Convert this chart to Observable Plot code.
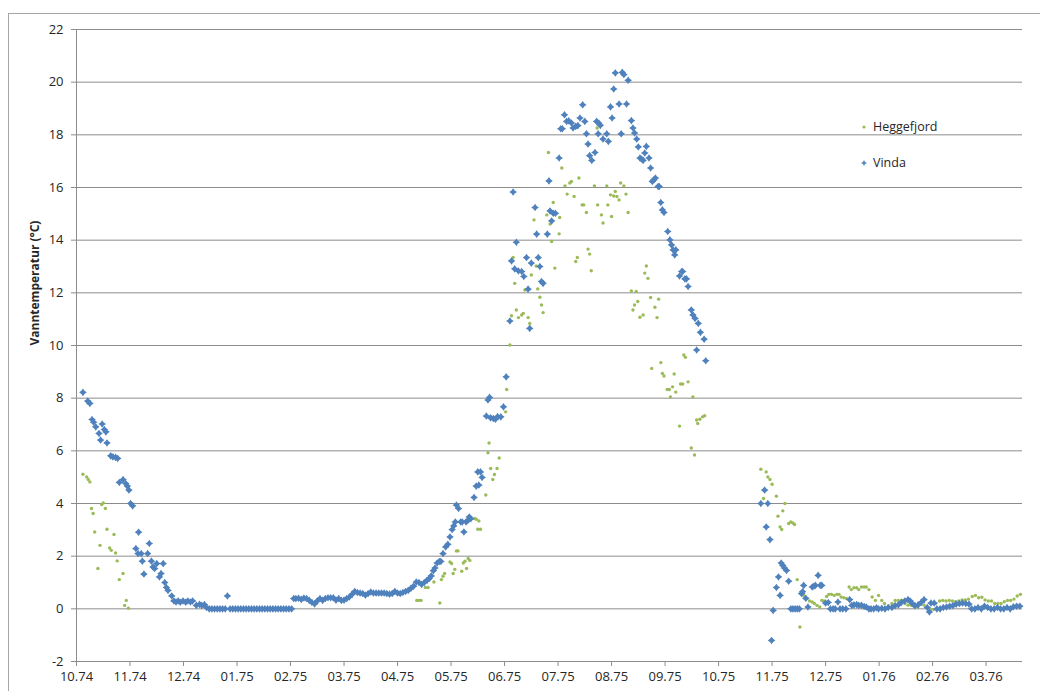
<!DOCTYPE html>
<html><head><meta charset="utf-8">
<script src="https://cdn.jsdelivr.net/npm/d3@7"></script>
<script src="https://cdn.jsdelivr.net/npm/@observablehq/plot@0.6"></script>
<style>
body{margin:0;background:#fff;}
#wrap{position:relative;width:1040px;height:691px;overflow:hidden;background:#fff;}
#frame{position:absolute;left:8px;top:13px;width:1100px;height:800px;border-left:1px solid #a6a6a6;border-top:1px solid #a6a6a6;}
#chart{position:absolute;left:0;top:0;}
#legend{position:absolute;left:860px;top:117px;font-family:"Open Sans",sans-serif;font-size:12.5px;color:#262626;}
#legend div{height:20px;line-height:20px;margin-bottom:16px;display:flex;align-items:center;}
#legend svg{margin-right:5px;}
</style></head>
<body>
<div id="wrap"><div id="frame"></div><div id="chart"></div>
<div id="legend"></div></div>
<script>
// x = months after start of October 1974 (0 = 10.74)
const xLabels = ["10.74","11.74","12.74","01.75","02.75","03.75","04.75","05.75","06.75","07.75","08.75","09.75","10.75","11.75","12.75","01.76","02.76","03.76"];
const yTicks = [-2,0,2,4,6,8,10,12,14,16,18,20,22];
const seriesNames = ["Heggefjord","Vinda"];

const heggefjordAutumn74 = [[0.12,5.11],[0.19,5.01],[0.22,4.91],[0.25,4.82],[0.28,3.81],[0.31,3.62],[0.34,2.92],[0.40,1.53],[0.44,2.41],[0.47,3.96],[0.50,4.02],[0.54,3.81],[0.57,3.02],[0.62,2.31],[0.65,2.22],[0.70,2.82],[0.73,2.12],[0.76,1.82],[0.80,1.11],[0.87,1.34],[0.90,0.13],[0.93,0.32],[0.97,0.02]];
const heggefjordSpring75 = [[6.36,0.32],[6.40,0.32],[6.44,0.32],[6.52,0.81],[6.57,0.81],[6.68,1.02],[6.79,0.22],[6.82,1.11],[6.85,1.24],[6.88,1.34],[6.98,1.78],[7.01,1.72],[7.04,1.34],[7.07,1.50],[7.10,2.2],[7.13,2.2],[7.20,1.43],[7.23,1.74],[7.26,1.81],[7.29,1.53],[7.32,1.91],[7.35,1.84],[7.44,3.43],[7.47,3.4],[7.50,3.02],[7.52,3.34],[7.55,3.02],[7.65,4.32],[7.69,5.93],[7.71,6.30],[7.74,5.33],[7.78,4.91],[7.81,5.10],[7.86,5.33],[7.90,5.73],[8.02,7.48],[8.04,8.33]];
const heggefjordSummer75 = [[8.10,10.02],[8.13,11.13],[8.16,13.34],[8.19,12.36],[8.22,11.35],[8.26,11.06],[8.32,11.16],[8.35,11.22],[8.38,12.11],[8.44,11.06],[8.47,10.84],[8.50,12.68],[8.55,14.77],[8.59,13.02],[8.62,12.15],[8.66,11.83],[8.69,11.54],[8.72,11.25],[8.79,14.96],[8.82,17.33],[8.85,14.61],[8.88,13.95],[8.91,15.43],[8.94,12.94],[9.02,14.24],[9.03,14.86],[9.07,16.74],[9.13,16.06],[9.17,15.75],[9.22,16.17],[9.25,16.23],[9.30,15.66],[9.33,13.19],[9.36,13.34],[9.39,16.36],[9.45,15.34],[9.48,15.34],[9.53,15.05],[9.56,13.66],[9.59,13.47],[9.62,12.84],[9.68,16.06],[9.73,18.26],[9.74,15.34],[9.81,14.96],[9.84,14.65],[9.91,16.06],[9.93,15.34],[9.98,15.72],[10.00,14.9],[10.04,15.68],[10.07,15.85],[10.10,15.66],[10.14,15.53],[10.17,16.17],[10.23,16.06],[10.27,15.75],[10.31,15.05],[10.37,12.07],[10.40,11.35],[10.43,11.54],[10.46,12.05],[10.49,11.67],[10.53,11.07],[10.59,11.16],[10.62,12.75],[10.65,13.02],[10.68,12.55],[10.73,11.82],[10.75,9.13],[10.81,11.45],[10.85,11.06],[10.88,11.76],[10.92,9.35],[10.95,8.94],[10.98,8.84],[11.04,8.33],[11.08,8.33],[11.10,8.05],[11.14,8.43],[11.17,8.92],[11.20,8.23],[11.27,6.94],[11.29,8.54],[11.33,8.54],[11.35,9.64],[11.38,9.55],[11.43,8.62],[11.49,6.11],[11.52,8.05],[11.55,5.84],[11.59,7.17],[11.61,7.04],[11.65,7.2],[11.70,7.29],[11.74,7.33]];
const heggefjordWinter75 = [[12.79,5.3],[12.84,4.19],[12.89,5.2],[12.92,5.01],[12.96,4.91],[13.0,4.73],[13.08,4.28],[13.11,3.52],[13.15,3.11],[13.18,3.01],[13.20,3.72],[13.24,4.0],[13.31,3.24],[13.35,3.30],[13.39,3.26],[13.42,3.20],[13.47,1.11],[13.52,-0.69],[13.56,0.6],[13.59,0.51],[13.62,0.45],[13.65,0.39],[13.70,0.3],[13.75,0.26],[13.79,0.2],[13.84,0.13],[13.89,0.07],[13.93,0.32],[13.97,0.3],[14.02,0.47],[14.06,0.55],[14.11,0.55],[14.16,0.51],[14.21,0.55],[14.25,0.55],[14.29,0.45],[14.34,0.42],[14.39,0.39],[14.44,0.83],[14.48,0.73],[14.53,0.8],[14.58,0.8],[14.62,0.73],[14.67,0.83],[14.72,0.83],[14.76,0.83],[14.81,0.73],[14.87,0.45],[14.93,0.32],[14.99,0.51],[15.05,0.32],[15.10,0.2],[15.18,0.11],[15.24,0.2],[15.30,0.32],[15.36,0.32],[15.42,0.32],[15.48,0.2],[15.54,0.14],[15.60,0.14],[15.66,0.07],[15.72,0.07],[15.78,0.2],[15.84,0.14],[15.90,0.07],[15.96,-0.03],[16.02,-0.03],[16.05,0.2],[16.13,0.3],[16.19,0.32],[16.25,0.3],[16.31,0.32],[16.37,0.3],[16.43,0.27],[16.49,0.3],[16.55,0.34],[16.61,0.34],[16.67,0.37],[16.74,0.47],[16.80,0.51],[16.86,0.42],[16.92,0.44],[16.98,0.34],[17.04,0.3],[17.10,0.3],[17.16,0.2],[17.22,0.2],[17.28,0.2],[17.34,0.27],[17.40,0.32],[17.46,0.32],[17.52,0.37],[17.58,0.49],[17.64,0.55]];

const vindaAutumn74 = [[0.12,8.22],[0.21,7.89],[0.25,7.8],[0.29,7.19],[0.32,7.09],[0.36,6.91],[0.42,6.66],[0.45,6.41],[0.48,7.02],[0.52,6.81],[0.55,6.72],[0.57,6.3],[0.64,5.81],[0.68,5.77],[0.73,5.75],[0.77,5.71],[0.80,4.8],[0.87,4.91],[0.92,4.76],[0.95,4.66],[0.98,4.51],[1.01,4.0],[1.05,3.91],[1.11,2.29],[1.15,2.1],[1.16,2.91],[1.21,2.1],[1.23,1.81],[1.26,1.32],[1.33,2.1],[1.36,2.48],[1.40,1.81],[1.43,1.59],[1.46,1.53],[1.50,1.72],[1.55,1.21],[1.58,1.34],[1.62,1.72],[1.65,1.0],[1.68,0.81],[1.71,0.7],[1.78,0.49],[1.82,0.3],[1.86,0.26],[1.90,0.3],[1.94,0.25],[1.99,0.3],[2.04,0.25],[2.08,0.3],[2.13,0.26],[2.17,0.3],[2.24,0.13],[2.30,0.17],[2.34,0.13],[2.39,0.16],[2.43,0.05]];
const vindaWinter75 = [[2.48,0],[2.53,0],[2.58,0],[2.63,0],[2.68,0],[2.73,0],[2.78,0],[2.82,0.49],[2.87,0],[2.92,0],[2.97,0],[3.02,0],[3.07,0],[3.12,0],[3.17,0],[3.22,0],[3.27,0],[3.32,0],[3.37,0],[3.42,0],[3.47,0],[3.52,0],[3.57,0],[3.62,0],[3.67,0],[3.72,0],[3.77,0],[3.82,0],[3.87,0],[3.92,0],[3.97,0],[4.02,0]];
const vindaSpring75 = [[4.06,0.39],[4.10,0.39],[4.15,0.40],[4.20,0.36],[4.25,0.41],[4.30,0.39],[4.35,0.32],[4.40,0.24],[4.45,0.19],[4.50,0.30],[4.55,0.39],[4.60,0.32],[4.65,0.39],[4.70,0.42],[4.75,0.42],[4.80,0.42],[4.85,0.33],[4.90,0.39],[4.95,0.32],[5.00,0.33],[5.05,0.39],[5.10,0.45],[5.15,0.55],[5.20,0.66],[5.25,0.62],[5.30,0.60],[5.35,0.58],[5.40,0.52],[5.45,0.58],[5.50,0.64],[5.55,0.60],[5.60,0.60],[5.65,0.60],[5.70,0.60],[5.75,0.60],[5.80,0.58],[5.85,0.56],[5.90,0.58],[5.95,0.66],[6.00,0.60],[6.05,0.58],[6.10,0.62],[6.15,0.66],[6.20,0.70],[6.25,0.78],[6.30,0.86],[6.35,1.02],[6.40,1.0],[6.45,0.93],[6.50,1.0],[6.55,1.08],[6.59,1.15],[6.63,1.25],[6.67,1.45],[6.70,1.55],[6.74,1.74],[6.78,1.8],[6.81,1.8],[6.85,2.1],[6.90,2.35],[6.94,2.45],[6.98,2.73],[7.02,3.01],[7.05,3.15],[7.08,3.3],[7.10,3.94],[7.14,3.81],[7.18,3.30],[7.21,3.30],[7.24,2.92],[7.28,3.30],[7.31,3.35],[7.34,3.49],[7.37,3.42],[7.43,4.23],[7.47,4.66],[7.50,5.2],[7.52,4.7],[7.55,5.2],[7.58,4.99],[7.66,7.32],[7.69,7.93],[7.72,8.03],[7.74,7.25],[7.79,7.23],[7.83,7.2],[7.87,7.3],[7.93,7.29],[7.98,7.67],[8.03,8.81]];
const vindaSummer75 = [[8.10,10.93],[8.13,13.21],[8.16,15.83],[8.19,12.91],[8.22,13.92],[8.26,12.83],[8.32,12.81],[8.36,12.62],[8.41,13.34],[8.44,12.14],[8.47,10.65],[8.50,13.13],[8.57,15.24],[8.60,14.23],[8.63,13.34],[8.66,13.0],[8.69,12.43],[8.72,12.36],[8.80,14.23],[8.83,16.25],[8.85,15.11],[8.88,14.73],[8.91,15.02],[8.95,15.02],[9.02,17.12],[9.05,18.23],[9.08,18.23],[9.12,18.76],[9.16,18.51],[9.20,18.53],[9.25,18.45],[9.28,18.26],[9.33,18.32],[9.37,18.35],[9.41,18.64],[9.46,19.14],[9.50,18.51],[9.53,18.04],[9.56,17.65],[9.59,17.21],[9.63,17.03],[9.69,17.33],[9.72,18.51],[9.75,18.04],[9.76,18.45],[9.79,18.36],[9.84,17.84],[9.91,18.04],[9.94,17.75],[9.98,19.06],[10.01,18.64],[10.04,19.74],[10.07,20.35],[10.14,19.17],[10.18,18.04],[10.20,20.37],[10.23,20.29],[10.28,19.17],[10.31,20.07],[10.37,18.54],[10.40,18.26],[10.43,18.07],[10.47,17.84],[10.50,17.54],[10.53,17.12],[10.56,17.08],[10.59,17.03],[10.62,17.31],[10.65,17.56],[10.70,17.12],[10.73,16.74],[10.76,16.23],[10.79,16.29],[10.82,16.36],[10.87,16.04],[10.89,16.04],[10.92,15.43],[10.95,15.15],[10.98,15.05],[11.05,14.33],[11.09,14.01],[11.12,13.82],[11.15,13.63],[11.18,13.44],[11.20,13.63],[11.27,12.64],[11.31,12.81],[11.33,12.81],[11.37,12.53],[11.40,12.53],[11.43,12.24],[11.49,11.35],[11.52,11.16],[11.56,11.03],[11.59,9.83],[11.62,10.84],[11.66,10.5],[11.73,10.24],[11.76,9.42]];
const vindaWinter76 = [[12.79,4.0],[12.86,4.51],[12.89,3.11],[12.92,4.0],[12.96,2.63],[12.99,-1.2],[13.02,-0.06],[13.08,0.81],[13.12,1.21],[13.15,0.51],[13.17,1.74],[13.20,1.65],[13.23,1.55],[13.27,1.46],[13.31,1.05],[13.35,0],[13.39,0],[13.43,0],[13.47,0],[13.51,0],[13.55,0.58],[13.57,0.65],[13.59,0.89],[13.63,0.4],[13.67,0.07],[13.75,0.83],[13.78,0.86],[13.81,0.89],[13.86,1.27],[13.90,0.89],[13.93,0.89],[14.0,0.22],[14.05,0.24],[14.09,0],[14.14,0],[14.18,0],[14.23,0.26],[14.27,0],[14.32,0],[14.38,0],[14.45,0.35],[14.49,0.13],[14.53,0.15],[14.58,0.16],[14.62,0.13],[14.67,0.13],[14.72,0.09],[14.76,0.07],[14.81,0],[14.85,0],[14.90,0],[14.95,0.04],[14.99,0],[15.05,0.02],[15.11,0.0],[15.17,0.05],[15.24,0.05],[15.30,0.12],[15.36,0.15],[15.42,0.25],[15.48,0.3],[15.54,0.35],[15.58,0.3],[15.62,0.2],[15.67,0.12],[15.73,0.15],[15.79,0.25],[15.84,0.35],[15.90,0.05],[15.94,-0.12],[15.97,0.22],[16.03,0.22],[16.08,0.0],[16.14,0.0],[16.2,0.05],[16.26,0.07],[16.32,0.1],[16.38,0.12],[16.44,0.18],[16.5,0.2],[16.56,0.22],[16.62,0.2],[16.68,0.18],[16.73,0.0],[16.79,0.0],[16.85,0.05],[16.91,0.0],[16.97,0.1],[17.03,0.05],[17.09,0.0],[17.15,0.0],[17.21,0.05],[17.27,0.0],[17.33,0.0],[17.39,0.05],[17.45,0.0],[17.51,0.08],[17.57,0.1],[17.63,0.1]];

const heggefjord = [...heggefjordAutumn74, ...heggefjordSpring75, ...heggefjordSummer75, ...heggefjordWinter75];
const vinda = [...vindaAutumn74, ...vindaWinter75, ...vindaSpring75, ...vindaSummer75, ...vindaWinter76];

const colors = {Heggefjord:"#9bbb59", Vinda:"#4f81bd"};
const star = {draw(ctx, size){ const r = Math.sqrt(size/Math.PI), s = r*0.42;
  ctx.moveTo(0,-r); ctx.lineTo(s,-s); ctx.lineTo(r,0); ctx.lineTo(s,s);
  ctx.lineTo(0,r); ctx.lineTo(-s,s); ctx.lineTo(-r,0); ctx.lineTo(-s,-s); ctx.closePath(); }};

const gridColor = "#8c8c8c";
const chart = Plot.plot({
  width:1040, height:691,
  marginLeft:76, marginRight:18, marginTop:29, marginBottom:30,
  style:{fontFamily:"'Open Sans', sans-serif", fontSize:"13px", color:"#262626", background:"transparent"},
  x:{domain:[0,17.68]},
  y:{domain:[-2,22]},
  marks:[
    Plot.ruleY(yTicks.filter(v=>v>-2), {stroke:gridColor, strokeWidth:1}),
    Plot.ruleY([-2], {stroke:gridColor}),
    Plot.ruleX([0], {stroke:gridColor}),
    Plot.axisY({ticks:yTicks, tickSize:5, tickPadding:8, stroke:gridColor, label:null, fontSize:13, fill:"#262626", tickFormat:d=>String(d)}),
    Plot.axisX({ticks:d3.range(xLabels.length), tickSize:5, tickPadding:5, stroke:gridColor, label:null, fontSize:13, fill:"#262626", tickFormat:i=>xLabels[i]}),
    Plot.text(["Vanntemperatur (°C)"], {frameAnchor:"left", dx:-41, rotate:-90, fontWeight:"bold", fontSize:12, fill:"#262626"}),
    Plot.dot(heggefjord, {x:d=>d[0], y:d=>d[1], r:1.7, fill:colors.Heggefjord}),
    Plot.dot(vinda, {x:d=>d[0], y:d=>d[1], r:3.8, symbol:star, fill:colors.Vinda})
  ]
});
document.getElementById("chart").appendChild(chart);

const leg = document.getElementById("legend");
seriesNames.forEach(name=>{
  const row = document.createElement("div");
  const mark = name==="Vinda"
    ? `<svg width="8" height="8"><path d="M4,1L5,3L7,4L5,5L4,7L3,5L1,4L3,3Z" fill="${colors[name]}"/></svg>`
    : `<svg width="8" height="8"><circle cx="4" cy="4" r="1.6" fill="${colors[name]}"/></svg>`;
  row.innerHTML = mark + `<span>${name}</span>`;
  leg.appendChild(row);
});
</script>
</body></html>
